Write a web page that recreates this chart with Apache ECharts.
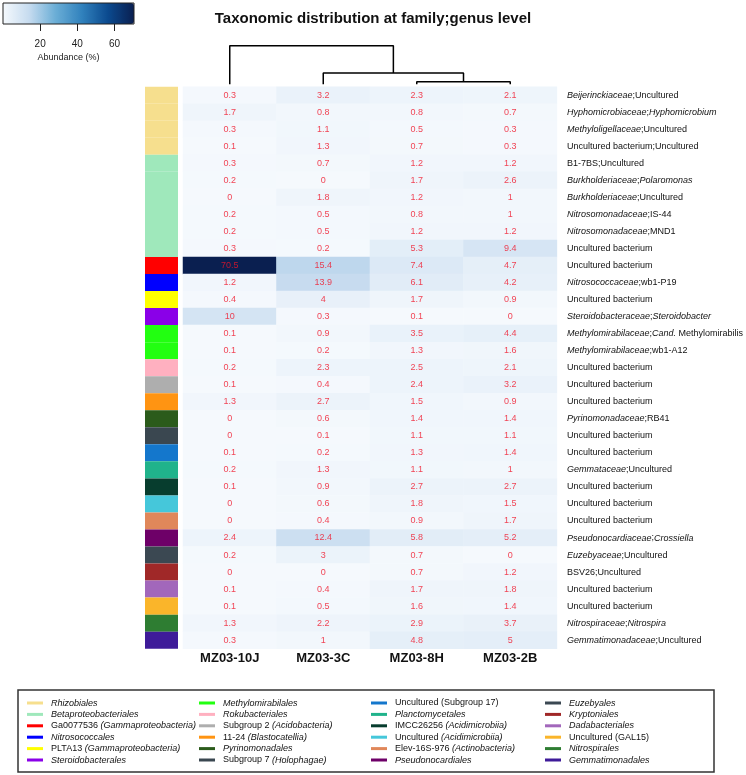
<!DOCTYPE html>
<html>
<head>
<meta charset="utf-8">
<script src="https://cdn.jsdelivr.net/npm/echarts@6/dist/echarts.min.js"></script>
<style>html,body{margin:0;padding:0;background:#fff}#c{width:746px;height:775px}</style>
</head>
<body>
<div id="c"></div>
<script>
const samples = ['MZ03-10J', 'MZ03-3C', 'MZ03-8H', 'MZ03-2B'];
const taxa = [
  'Beijerinckiaceae;Uncultured', 'Hyphomicrobiaceae;Hyphomicrobium', 'Methyloligellaceae;Uncultured',
  'Uncultured bacterium;Uncultured', 'B1-7BS;Uncultured', 'Burkholderiaceae;Polaromonas',
  'Burkholderiaceae;Uncultured', 'Nitrosomonadaceae;IS-44', 'Nitrosomonadaceae;MND1',
  'Uncultured bacterium ', 'Uncultured bacterium  ', 'Nitrosococcaceae;wb1-P19',
  'Uncultured bacterium   ', 'Steroidobacteraceae;Steroidobacter', 'Methylomirabilaceae;Cand. Methylomirabilis',
  'Methylomirabilaceae;wb1-A12', 'Uncultured bacterium    ', 'Uncultured bacterium     ',
  'Uncultured bacterium      ', 'Pyrinomonadaceae;RB41', 'Uncultured bacterium       ',
  'Uncultured bacterium        ', 'Gemmataceae;Uncultured', 'Uncultured bacterium         ',
  'Uncultured bacterium          ', 'Uncultured bacterium           ', 'Pseudonocardiaceae;Crossiella',
  'Euzebyaceae;Uncultured', 'BSV26;Uncultured', 'Uncultured bacterium            ',
  'Uncultured bacterium             ', 'Nitrospiraceae;Nitrospira', 'Gemmatimonadaceae;Uncultured'
];
const abund10J = [0.3, 1.7, 0.3, 0.1, 0.3, 0.2, 0, 0.2, 0.2, 0.3, 70.5, 1.2, 0.4, 10, 0.1, 0.1, 0.2, 0.1, 1.3, 0, 0, 0.1, 0.2, 0.1, 0, 0, 2.4, 0.2, 0, 0.1, 0.1, 1.3, 0.3];
const abund3C  = [3.2, 0.8, 1.1, 1.3, 0.7, 0, 1.8, 0.5, 0.5, 0.2, 15.4, 13.9, 4, 0.3, 0.9, 0.2, 2.3, 0.4, 2.7, 0.6, 0.1, 0.2, 1.3, 0.9, 0.6, 0.4, 12.4, 3, 0, 0.4, 0.5, 2.2, 1];
const abund8H  = [2.3, 0.8, 0.5, 0.7, 1.2, 1.7, 1.2, 0.8, 1.2, 5.3, 7.4, 6.1, 1.7, 0.1, 3.5, 1.3, 2.5, 2.4, 1.5, 1.4, 1.1, 1.3, 1.1, 2.7, 1.8, 0.9, 5.8, 0.7, 0.7, 1.7, 1.6, 2.9, 4.8];
const abund2B  = [2.1, 0.7, 0.3, 0.3, 1.2, 2.6, 1, 1, 1.2, 9.4, 4.7, 4.2, 0.9, 0, 4.4, 1.6, 2.1, 3.2, 0.9, 1.4, 1.1, 1.4, 1, 2.7, 1.5, 1.7, 5.2, 0, 1.2, 1.8, 1.4, 3.7, 5];
const orders = [
  'Rhizobiales', 'Betaproteobacteriales', 'Ga0077536 (Gammaproteobacteria)', 'Nitrosococcales',
  'PLTA13 (Gammaproteobacteria)', 'Steroidobacterales',
  'Methylomirabilales', 'Rokubacteriales', 'Subgroup 2 (Acidobacteria)', '11-24 (Blastocatellia)',
  'Pyrinomonadales', 'Subgroup 7 (Holophagae)',
  'Uncultured (Subgroup 17)', 'Planctomycetales', 'IMCC26256 (Acidimicrobiia)', 'Uncultured (Acidimicrobiia)',
  'Elev-16S-976 (Actinobacteria)', 'Pseudonocardiales',
  'Euzebyales', 'Kryptoniales', 'Dadabacteriales', 'Uncultured (GAL15)', 'Nitrospirales', 'Gemmatimonadales'
];
const rowOrders = [
  'Rhizobiales', 'Rhizobiales', 'Rhizobiales', 'Rhizobiales',
  'Betaproteobacteriales', 'Betaproteobacteriales', 'Betaproteobacteriales', 'Betaproteobacteriales', 'Betaproteobacteriales', 'Betaproteobacteriales',
  'Ga0077536 (Gammaproteobacteria)', 'Nitrosococcales', 'PLTA13 (Gammaproteobacteria)', 'Steroidobacterales',
  'Methylomirabilales', 'Methylomirabilales', 'Rokubacteriales', 'Subgroup 2 (Acidobacteria)', '11-24 (Blastocatellia)',
  'Pyrinomonadales', 'Subgroup 7 (Holophagae)', 'Uncultured (Subgroup 17)', 'Planctomycetales',
  'IMCC26256 (Acidimicrobiia)', 'Uncultured (Acidimicrobiia)', 'Elev-16S-976 (Actinobacteria)', 'Pseudonocardiales',
  'Euzebyales', 'Kryptoniales', 'Dadabacteriales', 'Uncultured (GAL15)', 'Nitrospirales', 'Gemmatimonadales'
];
// column dendrogram: [clusterA, clusterB, height]; leaves 0..3, new clusters 4, 5
const linkage = [[2, 3, 2.6], [1, 4, 11.3], [0, 5, 38.6]];
const colorbarTicks = [20, 40, 60];

const orderColors = ['#F6DF8E', '#9FE8BB', '#FF0000', '#0000FF', '#FFFF00', '#8A00E8',
  '#22FF11', '#FFB0C0', '#AEAEAE', '#FF9412', '#2B5B1B', '#3A4750',
  '#1477CC', '#20B38B', '#073D2E', '#45C7DA', '#E0875A', '#6E0068',
  '#3B4852', '#A02828', '#A267BB', '#FAB52A', '#2E7D32', '#3E1B99'];
const italicTerms = ['Beijerinckiaceae', 'Hyphomicrobiaceae', 'Hyphomicrobium', 'Methyloligellaceae', 'Burkholderiaceae',
  'Polaromonas', 'Nitrosomonadaceae', 'Nitrosococcaceae', 'Steroidobacteraceae', 'Steroidobacter', 'Methylomirabilaceae',
  'Cand.', 'Pyrinomonadaceae', 'Gemmataceae', 'Pseudonocardiaceae', 'Crossiella', 'Euzebyaceae', 'Nitrospiraceae',
  'Nitrospira', 'Gemmatimonadaceae', 'Rhizobiales', 'Betaproteobacteriales', 'Gammaproteobacteria', 'Nitrosococcales',
  'Steroidobacterales', 'Methylomirabilales', 'Rokubacteriales', 'Acidobacteria', 'Blastocatellia', 'Pyrinomonadales',
  'Holophagae', 'Planctomycetales', 'Acidimicrobiia', 'Actinobacteria', 'Pseudonocardiales', 'Euzebyales',
  'Kryptoniales', 'Dadabacteriales', 'Nitrospirales', 'Gemmatimonadales'];

function richify(s) {
  return s.trim().split(/([;\s])/).filter(t => t !== '').map(t =>
    (italicTerms.includes(t.replace(/[()]/g, '')) ? '{i|' : '{n|') + t + '}').join('');
}

const sampleCols = [abund10J, abund3C, abund8H, abund2B];
const heatData = [];
sampleCols.forEach((col, c) => col.forEach((v, r) => heatData.push([c, r, v])));

const nodeX = samples.map((s, i) => i + 0.5);
const nodeH = samples.map(() => 0);
const dendroSeries = linkage.map(([a, b, h]) => {
  const xa = nodeX[a], xb = nodeX[b];
  const seg = [[xa, nodeH[a]], [xa, h], [xb, h], [xb, nodeH[b]]];
  nodeX.push((xa + xb) / 2); nodeH.push(h);
  return { type: 'line', xAxisIndex: 2, yAxisIndex: 2, data: seg, symbol: 'none', silent: true,
    lineStyle: { color: '#000', width: 1.5 }, z: 5 };
});

const FONT = 'Liberation Sans, Arial, sans-serif';
const GT = 86.7, GH = 562;
const legendLefts = [27, 199, 371, 545];
const richStyles = (fs) => ({
  i: { fontStyle: 'italic', fontSize: fs, color: '#111', fontFamily: FONT },
  n: { fontSize: fs, color: '#111', fontFamily: FONT }
});

const chart = echarts.init(document.getElementById('c'), null, { renderer: 'canvas' });
chart.setOption({
  animation: false,
  backgroundColor: '#fff',
  textStyle: { fontFamily: FONT },
  title: { text: 'Taxonomic distribution at family;genus level', left: 'center', top: 11, padding: 0,
    textStyle: { fontSize: 15, fontWeight: 'bold', color: '#111', fontFamily: FONT } },
  grid: [
    { left: 183, top: GT, width: 374, height: GH },
    { left: 145, top: GT, width: 33, height: GH },
    { left: 183, top: 45.7, width: 374, height: 38.6 },
    { left: 3, top: 3, width: 131, height: 21, show: true, borderColor: '#222', borderWidth: 1, backgroundColor: 'transparent', z: 10 }
  ],
  xAxis: [
    { type: 'category', gridIndex: 0, data: samples, position: 'bottom', axisLine: { show: false }, axisTick: { show: false },
      axisLabel: { fontSize: 13, fontWeight: 'bold', color: '#111', margin: 3 } },
    { type: 'value', gridIndex: 1, min: 0, max: 1, show: false },
    { type: 'value', gridIndex: 2, min: 0, max: samples.length, show: false },
    { type: 'value', gridIndex: 3, min: 0, max: 70.5, axisLine: { show: false }, splitLine: { show: false },
      axisTick: { show: true, length: 7, lineStyle: { color: '#222' }, customValues: colorbarTicks },
      axisLabel: { fontSize: 10, color: '#222', margin: 15, customValues: colorbarTicks },
      name: 'Abundance (%)', nameLocation: 'middle', nameGap: 29, nameTextStyle: { fontSize: 9, color: '#222' } }
  ],
  yAxis: [
    { type: 'category', gridIndex: 0, data: taxa, inverse: true, position: 'right', axisLine: { show: false }, axisTick: { show: false },
      axisLabel: { margin: 10, fontSize: 9, color: '#111', formatter: v => richify(v), rich: richStyles(9) } },
    { type: 'category', gridIndex: 1, data: taxa, inverse: true, show: false },
    { type: 'value', gridIndex: 2, min: 0, max: 38.6, show: false },
    { type: 'value', gridIndex: 3, show: false }
  ],
  visualMap: {
    type: 'continuous', seriesIndex: 0, min: 0, max: 70.5, orient: 'horizontal', left: 3, top: 3,
    itemWidth: 21, itemHeight: 131, calculable: false, padding: 0, hoverLink: false, text: null, showLabel: false,
    inRange: { color: ['#f5f9fd', '#c6dbef', '#6baed6', '#3182bd', '#0b4a8f', '#0a1f50'] }
  },
  legend: [0, 1, 2, 3].map(k => ({
    data: orders.slice(k * 6, k * 6 + 6), orient: 'vertical', left: legendLefts[k], top: 698.5,
    itemWidth: 16, itemHeight: 3, icon: 'rect', itemGap: 2.4, padding: 0, selectedMode: false,
    formatter: name => richify(name),
    textStyle: { fontSize: 9, color: '#111', padding: [0, 0, 0, 3], rich: richStyles(9) }
  })),
  graphic: [{ type: 'rect', shape: { x: 18, y: 690, width: 696, height: 82 }, style: { fill: 'none', stroke: '#333', lineWidth: 1.5 }, silent: true }],
  series: [
    { type: 'heatmap', xAxisIndex: 0, yAxisIndex: 0, data: heatData,
      label: { show: true, fontSize: 9, color: 'rgba(240,20,40,0.8)', formatter: p => String(p.value[2]) },
      emphasis: { disabled: true } },
    { type: 'bar', xAxisIndex: 1, yAxisIndex: 1, barCategoryGap: '0%', silent: true,
      data: rowOrders.map(o => ({ value: 1, itemStyle: { color: orderColors[orders.indexOf(o)] } })) },
    ...dendroSeries,
    ...orders.map((o, i) => ({ type: 'line', name: o, data: [], xAxisIndex: 2, yAxisIndex: 2, color: orderColors[i], itemStyle: { color: orderColors[i] } }))
  ]
});
</script>
</body>
</html>
